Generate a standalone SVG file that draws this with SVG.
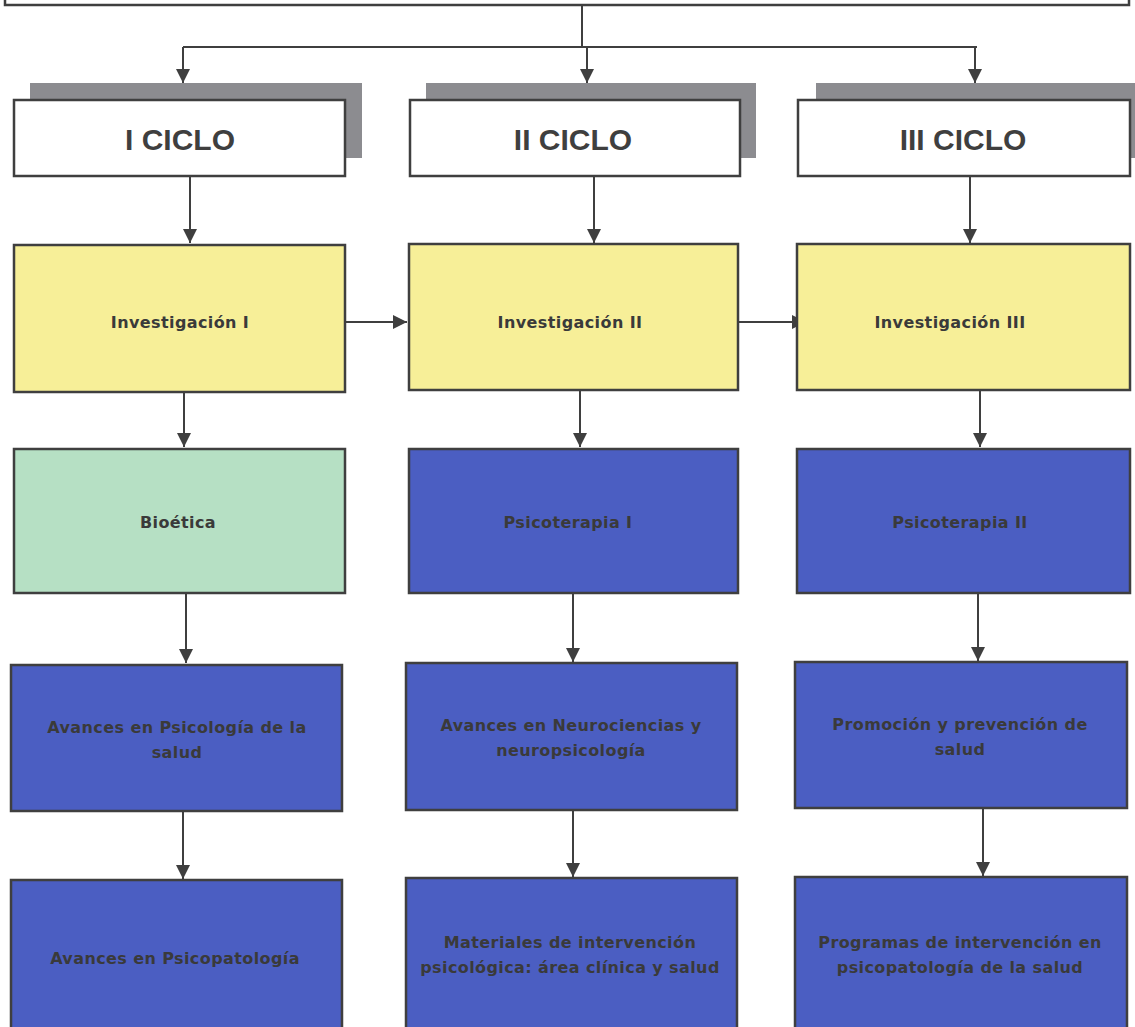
<svg xmlns="http://www.w3.org/2000/svg" width="1135" height="1027" viewBox="0 0 1135 1027">
<style>
.box{stroke:#3f3f3f;stroke-width:2.5}
.y{fill:#f7ef98}
.b{fill:#4b5ec2}
.g{fill:#b6e0c4}
.w{fill:#ffffff}
.sh{fill:#8c8c90}
.t{font-family:"DejaVu Sans",sans-serif;font-weight:bold;font-size:16px;letter-spacing:0.4px;fill:#3a3a3a;text-anchor:middle}
.h{font-family:"Liberation Sans",Arial,sans-serif;font-weight:bold;font-size:30px;fill:#3f3f3f;text-anchor:middle}
.c{stroke:#3f3f3f;stroke-width:2;fill:none}
</style>
<defs>
<marker id="ah" viewBox="0 0 10 10" refX="10" refY="5" markerWidth="14" markerHeight="14" markerUnits="userSpaceOnUse" orient="auto">
<path d="M0,0 L10,5 L0,10 z" fill="#3f3f3f"/>
</marker>
</defs>
<rect width="1135" height="1027" fill="#ffffff"/>
<g id="top">
<rect x="5" y="-10" width="1124" height="15" fill="none" class="box"/>
</g>
<g id="connectors">
<path class="c" d="M582,5 V47"/>
<path class="c" d="M183,47 H977"/>
<path class="c" d="M183,47 V83" marker-end="url(#ah)"/>
<path class="c" d="M587,47 V83" marker-end="url(#ah)"/>
<path class="c" d="M975,47 V83" marker-end="url(#ah)"/>
<path class="c" d="M190,177 V243" marker-end="url(#ah)"/>
<path class="c" d="M594,177 V243" marker-end="url(#ah)"/>
<path class="c" d="M970,177 V243" marker-end="url(#ah)"/>
<path class="c" d="M339,322 H407" marker-end="url(#ah)"/>
<path class="c" d="M738,322 H806" marker-end="url(#ah)"/>
<path class="c" d="M184,392 V447" marker-end="url(#ah)"/>
<path class="c" d="M580,390 V447" marker-end="url(#ah)"/>
<path class="c" d="M980,390 V447" marker-end="url(#ah)"/>
<path class="c" d="M186,593 V663" marker-end="url(#ah)"/>
<path class="c" d="M573,593 V662" marker-end="url(#ah)"/>
<path class="c" d="M978,593 V661" marker-end="url(#ah)"/>
<path class="c" d="M183,811 V879" marker-end="url(#ah)"/>
<path class="c" d="M573,810 V877" marker-end="url(#ah)"/>
<path class="c" d="M983,808 V876" marker-end="url(#ah)"/>
</g>
<g id="ciclo1">
<rect class="sh" x="30" y="83" width="332" height="75"/>
<rect class="box w" x="14" y="100" width="331" height="76"/>
<text class="h" x="180" y="150">I CICLO</text>
</g>
<g id="ciclo2">
<rect class="sh" x="426" y="83" width="330" height="75"/>
<rect class="box w" x="410" y="100" width="330" height="76"/>
<text class="h" x="573" y="150">II CICLO</text>
</g>
<g id="ciclo3">
<rect class="sh" x="816" y="83" width="325" height="75"/>
<rect class="box w" x="798" y="100" width="332" height="76"/>
<text class="h" x="963" y="150">III CICLO</text>
</g>
<g id="inv1">
<rect class="box y" x="14" y="245" width="331" height="147"/>
<text class="t" x="180" y="328">Investigación I</text>
</g>
<g id="inv2">
<rect class="box y" x="409" y="244" width="329" height="146"/>
<text class="t" x="570" y="328">Investigación II</text>
</g>
<g id="inv3">
<rect class="box y" x="797" y="244" width="333" height="146"/>
<text class="t" x="950" y="328">Investigación III</text>
</g>
<g id="bioetica">
<rect class="box g" x="14" y="449" width="331" height="144"/>
<text class="t" x="178" y="528">Bioética</text>
</g>
<g id="psico1">
<rect class="box b" x="409" y="449" width="329" height="144"/>
<text class="t" x="568" y="528">Psicoterapia I</text>
</g>
<g id="psico2">
<rect class="box b" x="797" y="449" width="333" height="144"/>
<text class="t" x="960" y="528">Psicoterapia II</text>
</g>
<g id="avpsal">
<rect class="box b" x="11" y="665" width="331" height="146"/>
<text class="t" x="177" y="733">Avances en Psicología de la</text>
<text class="t" x="177" y="758">salud</text>
</g>
<g id="avneuro">
<rect class="box b" x="406" y="663" width="331" height="147"/>
<text class="t" x="571" y="731">Avances en Neurociencias y</text>
<text class="t" x="571" y="756">neuropsicología</text>
</g>
<g id="promo">
<rect class="box b" x="795" y="662" width="332" height="146"/>
<text class="t" x="960" y="730">Promoción y prevención de</text>
<text class="t" x="960" y="755">salud</text>
</g>
<g id="avpato">
<rect class="box b" x="11" y="880" width="331" height="160"/>
<text class="t" x="175" y="964">Avances en Psicopatología</text>
</g>
<g id="materiales">
<rect class="box b" x="406" y="878" width="331" height="160"/>
<text class="t" x="570" y="948">Materiales de intervención</text>
<text class="t" x="570" y="973">psicológica: área clínica y salud</text>
</g>
<g id="programas">
<rect class="box b" x="795" y="877" width="332" height="160"/>
<text class="t" x="960" y="948">Programas de intervención en</text>
<text class="t" x="960" y="973">psicopatología de la salud</text>
</g>
</svg>
